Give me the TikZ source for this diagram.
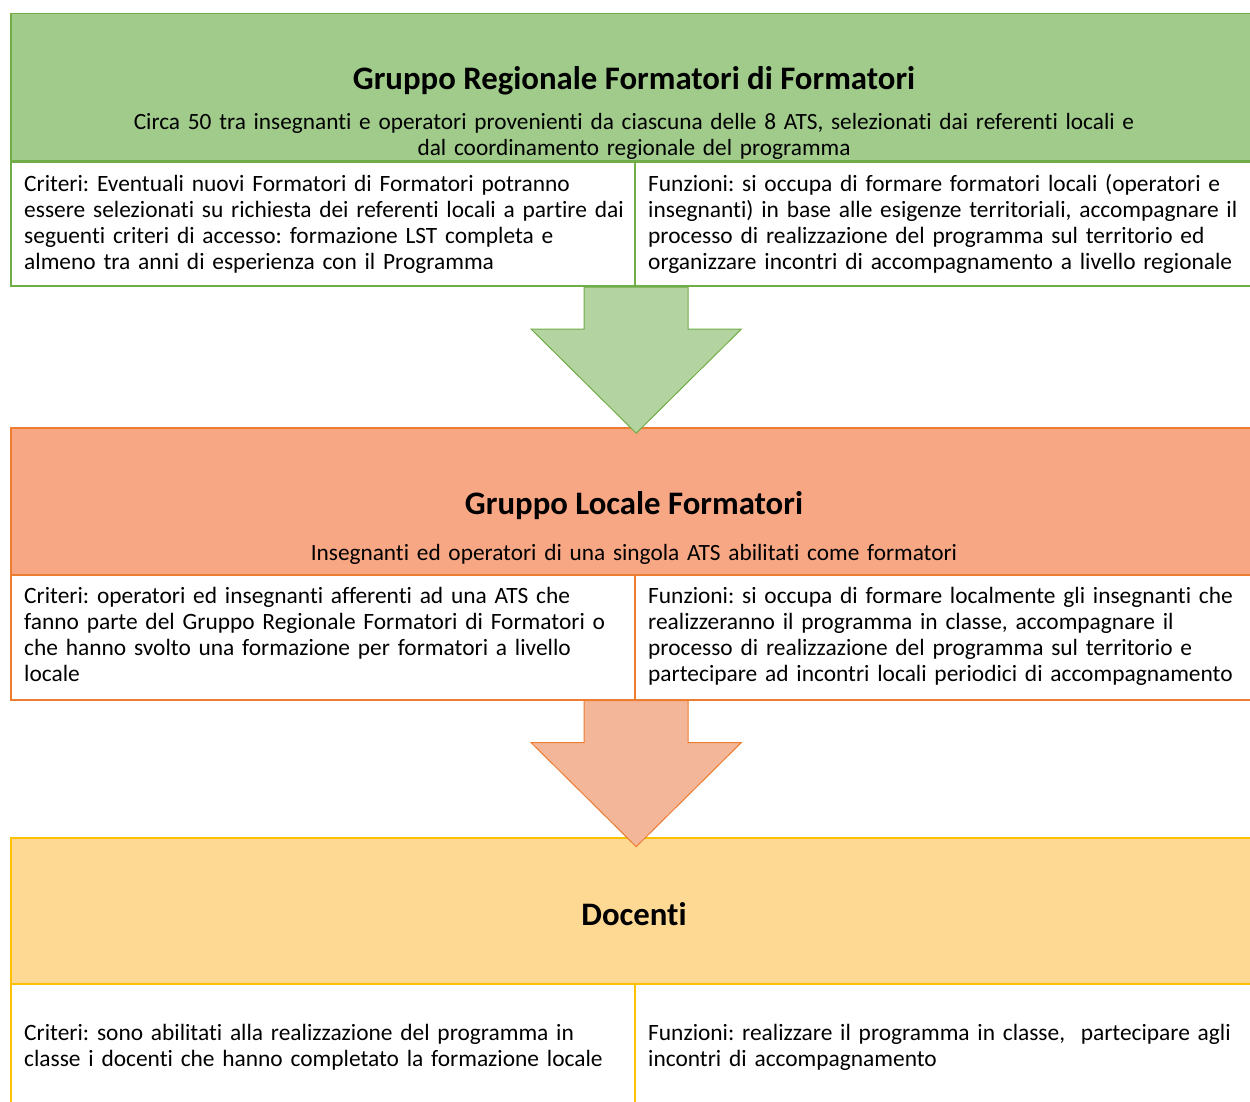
\documentclass[tikz,border=0pt]{standalone}
\usepackage{fontspec}
\setmainfont{Carlito}[Ligatures={NoCommon,NoContextual}]
\frenchspacing
\definecolor{gFill}{RGB}{160,203,139}
\definecolor{gLine}{RGB}{112,173,71}
\definecolor{gArrow}{RGB}{179,211,160}
\definecolor{oFill}{RGB}{247,167,132}
\definecolor{oLine}{RGB}{237,125,49}
\definecolor{oArrow}{RGB}{244,182,153}
\definecolor{yFill}{RGB}{254,217,148}
\definecolor{yLine}{RGB}{255,192,0}
\tikzset{
  hdr/.style={draw=#1, line width=1.5pt, rectangle, anchor=north west, inner sep=0pt, minimum width=1260pt, minimum height=147pt},
  cell/.style={draw=#1, line width=2.2pt, fill=white, rectangle, anchor=north west, inner sep=0pt, minimum width=624pt},
  bodytxt/.style={font=\fontsize{23.4}{26}\selectfont, inner sep=0pt, text width=610pt, align=left, anchor=base west},
  subtxt/.style={font=\fontsize{23.3}{26}\selectfont, inner sep=0pt, text width=1150pt, align=center, anchor=base},
  ttl/.style={font=\fontsize{32.8}{38}\selectfont\bfseries, inner sep=0pt, anchor=base},
  blockarrow/.style={draw=#1, line width=1pt, line join=miter}
}
\begin{document}
\begin{tikzpicture}[x=1pt,y=-1pt]
\useasboundingbox (0,0) rectangle (1250,1102);
\clip (0,0) rectangle (1250,1102);
% ---------- green level
\node[hdr=gLine, fill=gFill] (g) at (10,13) {};
\node[ttl] (gt) at (634,90) {Gruppo Regionale Formatori di Formatori};
\node[subtxt] (gs) at (634,130) {Circa 50 tra insegnanti e operatori provenienti da ciascuna delle 8 ATS, selezionati dai referenti locali e\\dal coordinamento regionale del programma};
\node[cell=gLine, minimum height=124.3pt] (gL) at (10,160.7) {};
\node[cell=gLine, minimum height=124.3pt, minimum width=640pt] (gR) at (634,160.7) {};
\node[bodytxt] (gLt) at (24,191.5) {Criteri: Eventuali nuovi Formatori di Formatori potranno\\essere selezionati su richiesta dei referenti locali a partire dai\\seguenti criteri di accesso: formazione LST completa e\\almeno tra anni di esperienza con il Programma};
\node[bodytxt] (gRt) at (648,191.5) {Funzioni: si occupa di formare formatori locali (operatori e\\insegnanti) in base alle esigenze territoriali, accompagnare il\\processo di realizzazione del programma sul territorio ed\\organizzare incontri di accompagnamento a livello regionale};
% ---------- orange level
\node[hdr=oLine, fill=oFill] (o) at (10,427) {};
\node[ttl] (ot) at (634,514) {Gruppo Locale Formatori};
\node[subtxt] (os) at (634,560) {Insegnanti ed operatori di una singola ATS abilitati come formatori};
\node[cell=oLine, minimum height=124.5pt] (oL) at (10,574) {};
\node[cell=oLine, minimum height=124.5pt, minimum width=640pt] (oR) at (634,574) {};
\node[bodytxt] (oLt) at (24,603.5) {Criteri: operatori ed insegnanti afferenti ad una ATS che\\fanno parte del Gruppo Regionale Formatori di Formatori o\\che hanno svolto una formazione per formatori a livello\\locale};
\node[bodytxt] (oRt) at (648,603.5) {Funzioni: si occupa di formare localmente gli insegnanti che\\realizzeranno il programma in classe, accompagnare il\\processo di realizzazione del programma sul territorio e\\partecipare ad incontri locali periodici di accompagnamento};
% ---------- yellow level
\node[hdr=yLine, fill=yFill, minimum height=146pt] (y) at (10,837) {};
\node[ttl] (yt) at (634,925) {Docenti};
\node[cell=yLine, minimum height=140pt] (yL) at (10,983) {};
\node[cell=yLine, minimum height=140pt, minimum width=640pt] (yR) at (634,983) {};
\node[bodytxt] (yLt) at (24,1040) {Criteri: sono abilitati alla realizzazione del programma in\\classe i docenti che hanno completato la formazione locale};
\node[bodytxt] (yRt) at (648,1040) {Funzioni: realizzare il programma in classe,\ \ partecipare agli\\incontri di accompagnamento};
% ---------- block arrows
\draw[blockarrow=gLine, fill=gArrow] (gL.south east) ++(-52,0) -- ++(0,42) -- ++(-53,0) -- ++(105,104) -- ++(105,-104) -- ++(-53,0) -- ++(0,-42) -- cycle;
\draw[blockarrow=oLine, fill=oArrow] (oL.south east) ++(-52,0) -- ++(0,42) -- ++(-53,0) -- ++(105,104) -- ++(105,-104) -- ++(-53,0) -- ++(0,-42) -- cycle;
\end{tikzpicture}
\end{document}
